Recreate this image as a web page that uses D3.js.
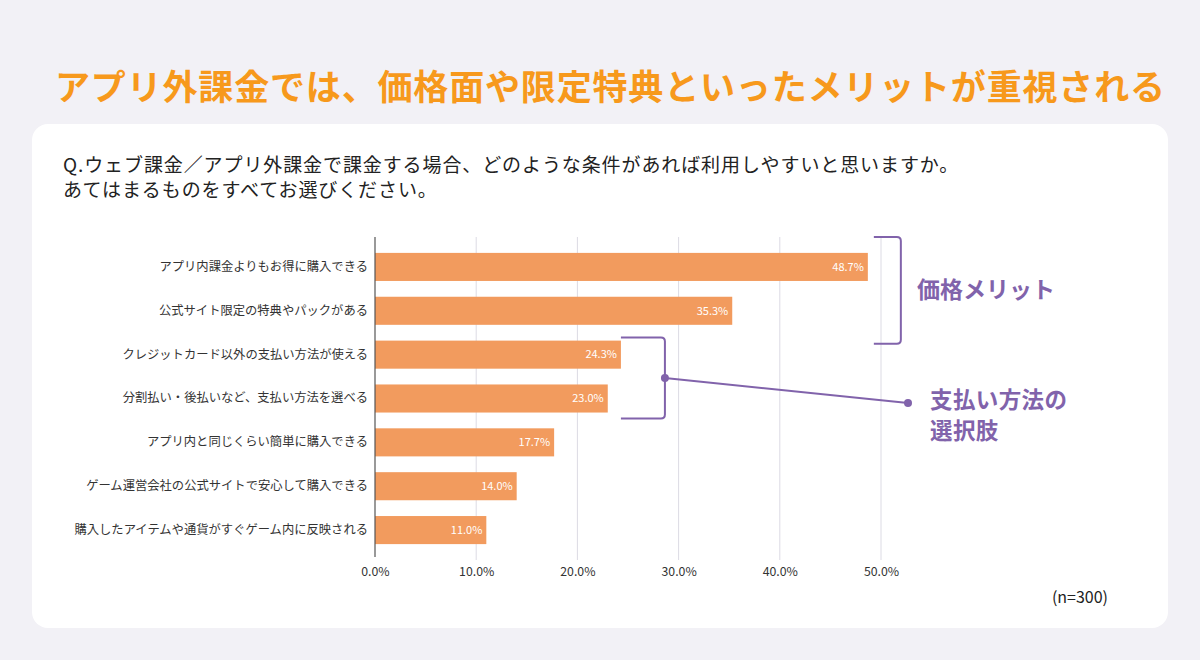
<!DOCTYPE html>
<html>
<head>
<meta charset="utf-8">
<script src="https://cdn.jsdelivr.net/npm/d3@7"></script>
<style>
  body { margin: 0; background: #f2f1f6; }
  svg { display: block; font-family: "Noto Sans CJK JP", "Noto Sans", sans-serif; }
</style>
</head>
<body>
<div id="chart"></div>
<script>
// data
const categories = [
  "アプリ内課金よりもお得に購入できる",
  "公式サイト限定の特典やパックがある",
  "クレジットカード以外の支払い方法が使える",
  "分割払い・後払いなど、支払い方法を選べる",
  "アプリ内と同じくらい簡単に購入できる",
  "ゲーム運営会社の公式サイトで安心して購入できる",
  "購入したアイテムや通貨がすぐゲーム内に反映される"
];
const values = [48.7, 35.3, 24.3, 23.0, 17.7, 14.0, 11.0];
const ticks = [0, 10, 20, 30, 40, 50];
const titleText = "アプリ外課金では、価格面や限定特典といったメリットが重視される";
const questionLines = [
  "Q.ウェブ課金／アプリ外課金で課金する場合、どのような条件があれば利用しやすいと思いますか。",
  "あてはまるものをすべてお選びください。"
];
const groupPrice = ["価格メリット"];
const groupPay = ["支払い方法の", "選択肢"];
const noteText = "(n=300)";

const W = 1200, H = 660;
const barColor = "#f29b5e";
const purple = "#8163ab";

const svg = d3.select("#chart").append("svg")
  .attr("width", W)
  .attr("height", H);

svg.append("rect").attr("width", W).attr("height", H).attr("fill", "#f2f1f6");

// title
const title = svg.append("text")
  .attr("x", 55)
  .attr("y", 100)
  .attr("fill", "#f7991c")
  .attr("font-size", 35)
  .attr("font-weight", 700)
  .text(titleText);
// stretch to the width in the picture
title.attr("textLength", 1110).attr("lengthAdjust", "spacing");

// card
svg.append("rect")
  .attr("x", 32).attr("y", 124)
  .attr("width", 1136).attr("height", 504)
  .attr("rx", 16)
  .attr("fill", "#ffffff");

// question
svg.selectAll("text.q")
  .data(questionLines)
  .enter()
  .append("text")
  .attr("class", "q")
  .attr("x", 63)
  .attr("y", (d, i) => 172 + i * 25)
  .attr("font-size", 19)
  .attr("letter-spacing", 0.9)
  .attr("fill", "#222")
  .text(d => d);

// scales
const x = d3.scaleLinear().domain([0, 50]).range([375, 881]);
const y = d3.scaleBand()
  .domain(categories)
  .range([245, 552])
  .paddingInner(0.36)
  .paddingOuter(0.18);

// grid
svg.append("g")
  .selectAll("line")
  .data(ticks.filter(t => t > 0))
  .enter()
  .append("line")
  .attr("x1", d => x(d)).attr("x2", d => x(d))
  .attr("y1", 237).attr("y2", 560)
  .attr("stroke", "#dcdbe4")
  .attr("stroke-width", 1);

// bars
svg.append("g")
  .selectAll("rect")
  .data(values)
  .enter()
  .append("rect")
  .attr("x", x(0))
  .attr("y", (d, i) => y(categories[i]))
  .attr("width", d => x(d) - x(0))
  .attr("height", y.bandwidth())
  .attr("fill", barColor);

// value labels
svg.append("g")
  .selectAll("text")
  .data(values)
  .enter()
  .append("text")
  .attr("x", d => x(d) - 4)
  .attr("y", (d, i) => y(categories[i]) + y.bandwidth() / 2)
  .attr("dy", "0.35em")
  .attr("text-anchor", "end")
  .attr("font-size", 11)
  .attr("fill", "#fff")
  .text(d => d.toFixed(1) + "%");

// y axis
const yAxis = svg.append("g")
  .attr("transform", `translate(${x(0)},0)`)
  .call(d3.axisLeft(y).tickSize(0).tickPadding(7));
yAxis.select(".domain").remove();
yAxis.selectAll("text")
  .attr("font-size", 12.3)
  .attr("fill", "#333")
  .style("font-family", "'Noto Sans CJK JP', sans-serif");
svg.append("line")
  .attr("x1", x(0)).attr("x2", x(0))
  .attr("y1", 237).attr("y2", 557)
  .attr("stroke", "#555")
  .attr("stroke-width", 1.2);

// x axis
const xAxis = svg.append("g")
  .attr("transform", "translate(0,565)")
  .call(d3.axisBottom(x).tickValues(ticks).tickSize(0).tickPadding(2)
    .tickFormat(d => d.toFixed(1) + "%"));
xAxis.select(".domain").remove();
xAxis.selectAll("text")
  .attr("font-size", 12.3)
  .attr("fill", "#333")
  .style("font-family", "'Noto Sans CJK JP', sans-serif");

// brackets
function bracket(x0, xv, y0, y1) {
  const r = 4;
  const p = d3.path();
  p.moveTo(x0, y0);
  p.lineTo(xv - r, y0);
  p.quadraticCurveTo(xv, y0, xv, y0 + r);
  p.lineTo(xv, y1 - r);
  p.quadraticCurveTo(xv, y1, xv - r, y1);
  p.lineTo(x0, y1);
  return p.toString();
}

// price group: first two bars
const b1x = x(values[0]) + 6;
svg.append("path")
  .attr("d", bracket(b1x, b1x + 27, y(categories[0]) - 16, y(categories[1]) + y.bandwidth() + 19))
  .attr("fill", "none")
  .attr("stroke", purple)
  .attr("stroke-width", 2);

svg.append("text")
  .attr("x", 917)
  .attr("y", 298)
  .attr("font-size", 23)
  .attr("font-weight", 700)
  .attr("fill", purple)
  .text(groupPrice[0]);

// payment group: bars 3 and 4
const b2x = x(values[2]);
const b2v = b2x + 44;
const b2top = y(categories[2]) - 3;
const b2bot = y(categories[3]) + y.bandwidth() + 6;
svg.append("path")
  .attr("d", bracket(b2x, b2v, b2top, b2bot))
  .attr("fill", "none")
  .attr("stroke", purple)
  .attr("stroke-width", 2);

const midY = (b2top + b2bot) / 2;
svg.append("line")
  .attr("x1", b2v).attr("y1", midY)
  .attr("x2", 908).attr("y2", 403)
  .attr("stroke", purple)
  .attr("stroke-width", 2);
svg.selectAll("circle.dot")
  .data([[b2v, midY], [908, 403]])
  .enter()
  .append("circle")
  .attr("class", "dot")
  .attr("cx", d => d[0]).attr("cy", d => d[1])
  .attr("r", 4)
  .attr("fill", purple);

svg.selectAll("text.pay")
  .data(groupPay)
  .enter()
  .append("text")
  .attr("class", "pay")
  .attr("x", 930)
  .attr("y", (d, i) => 408 + i * 31)
  .attr("font-size", 22.5)
  .attr("letter-spacing", 0.4)
  .attr("font-weight", 700)
  .attr("fill", purple)
  .text(d => d);

// sample size
svg.append("text")
  .attr("x", 1108)
  .attr("y", 603)
  .attr("text-anchor", "end")
  .attr("font-size", 16)
  .attr("fill", "#222")
  .text(noteText);
</script>
</body>
</html>
